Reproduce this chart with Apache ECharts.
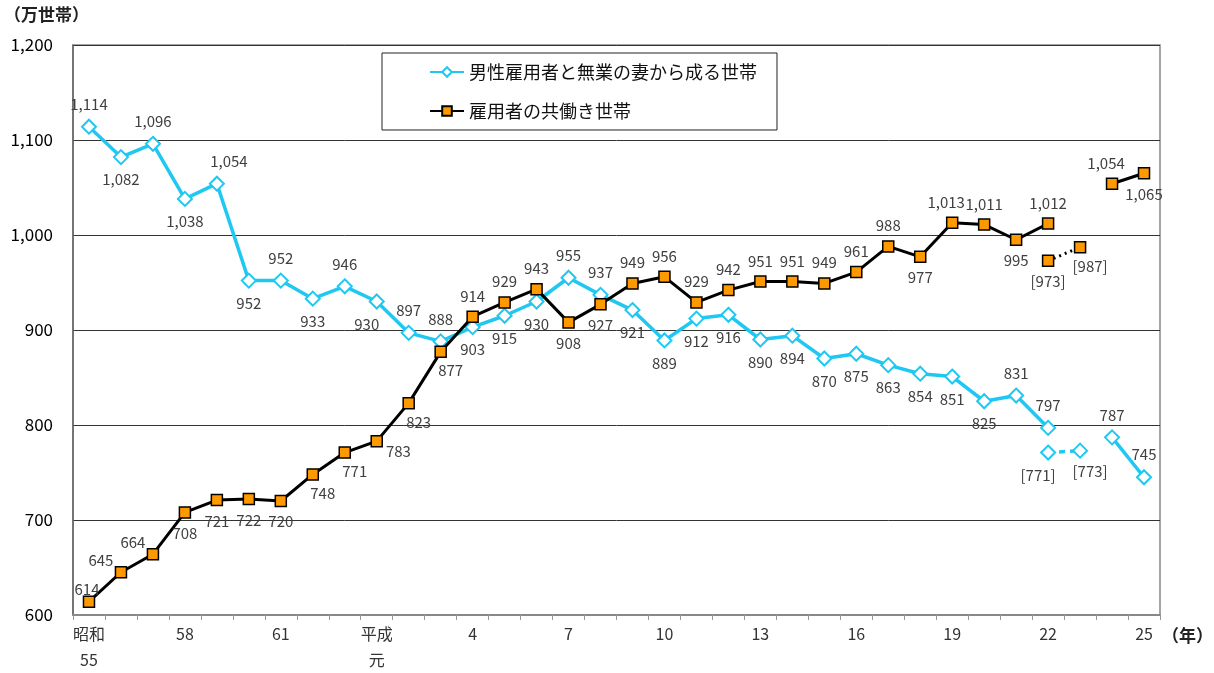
<!DOCTYPE html>
<html><head><meta charset="utf-8">
<script src="https://cdn.jsdelivr.net/npm/echarts@6/dist/echarts.min.js"></script>
<style>html,body{margin:0;padding:0;background:#fff;overflow:hidden}#c{width:1214px;height:673px}</style>
</head><body><div id="c"></div>
<script>
// categories: 昭和55 (1980) ... 平成25 (2013)
const categories = ['昭和\n55','56','57','58','59','60','61','62','63','平成\n元',
  '2','3','4','5','6','7','8','9','10','11','12','13','14','15','16','17','18','19','20','21','22','23','24','25'];
const yTicks = [600,700,800,900,1000,1100,1200];
const nameA = '男性雇用者と無業の妻から成る世帯';
const nameB = '雇用者の共働き世帯';
const seriesA = [1114,1082,1096,1038,1054,952,952,933,946,930,897,888,903,915,930,955,937,921,889,912,916,890,894,870,875,863,854,851,825,831,797,null,787,745];
const seriesB = [614,645,664,708,721,722,720,748,771,783,823,877,914,929,943,908,927,949,956,929,942,951,951,949,961,988,977,1013,1011,995,1012,null,1054,1065];
// bracketed values (excluding 岩手・宮城・福島) for 22 and 23
const seriesAExcl = [null,null,null,null,null,null,null,null,null,null,null,null,null,null,null,null,null,null,null,null,null,null,null,null,null,null,null,null,null,null,771,773,null,null];
const seriesBExcl = [null,null,null,null,null,null,null,null,null,null,null,null,null,null,null,null,null,null,null,null,null,null,null,null,null,null,null,null,null,null,973,987,null,null];

// label placement (style only)
const posA = ['T','B','T','B','TR','B','T','B','T','BL','T','T','B','B','B','T','T','B','B','B','B','B','B','B','B','B','B','B','B','T','T',null,'T','T'];
const posB = ['TN','TL2','TL2','B','B','B','B','BR','BR','R','BR','BR','T','T','T','B','B','T','T','T','T','T','T','T','T','T','B','TL','T','B','T',null,'TL','B'];
const posAExcl = {30:'BL',31:'BR'};
const posBExcl = {30:'B',31:'BR'};

const PL = {T:['top',[0,0]],B:['bottom',[0,0]],TL:['top',[-6,0]],TR:['top',[12,0]],
  TN:['top',[-2,8]],TL2:['top',[-20,9]],
  BL:['bottom',[-10,0]],BR:['bottom',[10,-2]],R:['right',[-4,10]]};

function fmt(v){ return String(v).replace(/\B(?=(\d{3})+(?!\d))/g, ','); }
function build(vals, pos){
  return vals.map((v,i)=>{
    if(v==null) return null;
    const p = PL[pos[i]||'T'];
    return {value:v, label:{position:p[0], offset:p[1]}};
  });
}
const labelBase = {show:true, fontSize:15, color:'#404040', distance:7,
  fontFamily:'"Noto Sans CJK JP", sans-serif'};
const cyan = '#1EC8F2', orange = '#FF9900';

const chart = echarts.init(document.getElementById('c'), null, {renderer:'canvas'});
chart.setOption({
  animation:false,
  textStyle:{fontFamily:'"Noto Sans CJK JP", sans-serif'},
  grid:{left:73, right:54, top:45, bottom:45, show:true, borderColor:'#888', borderWidth:1.5},
  legend:{
    data:[nameA, nameB], orient:'vertical', left:382, top:53,
    padding:[10,20,10,47], itemGap:21, itemWidth:34, itemHeight:12,
    borderColor:'#222', borderWidth:1, backgroundColor:'#fff',
    textStyle:{fontSize:18, color:'#111', fontFamily:'"Noto Sans CJK JP", sans-serif'}
  },
  xAxis:{
    type:'category', data:categories, boundaryGap:true,
    axisLine:{lineStyle:{color:'#888', width:2}},
    axisTick:{show:true, interval:0, length:5, lineStyle:{color:'#999'}},
    axisLabel:{interval:2, color:'#333', fontSize:16, lineHeight:26, margin:6}
  },
  yAxis:{
    type:'value', min:yTicks[0], max:yTicks[yTicks.length-1], interval:100,
    axisLine:{show:true, lineStyle:{color:'#666', width:1.5}},
    axisTick:{show:false},
    axisLabel:{color:'#000', fontSize:17, margin:20, formatter:v=>fmt(v)},
    splitLine:{lineStyle:{color:'#333', width:1}}
  },
  graphic:[
    {type:'text', left:4, top:6, style:{text:'（万世帯）', fontSize:17, fontWeight:'bold', fill:'#222', fontFamily:'"Noto Sans CJK JP", sans-serif'}},
    {type:'text', left:1162, top:627, style:{text:'（年）', fontSize:17, fontWeight:'bold', fill:'#222', fontFamily:'"Noto Sans CJK JP", sans-serif'}}
  ],
  series:[
    {name:nameA, type:'line', data:build(seriesA,posA), connectNulls:false,
      symbol:'diamond', symbolSize:14,
      lineStyle:{color:cyan, width:3.5}, itemStyle:{color:'#fff', borderColor:cyan, borderWidth:2},
      label:Object.assign({formatter:p=>fmt(p.value)}, labelBase), z:3},
    {name:nameA+'excl', type:'line', data:build(seriesAExcl,posAExcl), connectNulls:false,
      symbol:'diamond', symbolSize:14,
      lineStyle:{color:cyan, width:3.5, type:[6,5]}, itemStyle:{color:'#fff', borderColor:cyan, borderWidth:2},
      label:Object.assign({formatter:p=>'['+p.value+']'}, labelBase), z:3},
    {name:nameB, type:'line', data:build(seriesB,posB), connectNulls:false,
      symbol:'rect', symbolSize:11,
      lineStyle:{color:'#000', width:3}, itemStyle:{color:orange, borderColor:'#000', borderWidth:1.5},
      label:Object.assign({formatter:p=>fmt(p.value)}, labelBase), z:4},
    {name:nameB+'excl', type:'line', data:build(seriesBExcl,posBExcl), connectNulls:false,
      symbol:'rect', symbolSize:11,
      lineStyle:{color:'#000', width:3, type:[2,4]}, itemStyle:{color:orange, borderColor:'#000', borderWidth:1.5},
      label:Object.assign({formatter:p=>'['+p.value+']'}, labelBase), z:4}
  ]
});
</script></body></html>
